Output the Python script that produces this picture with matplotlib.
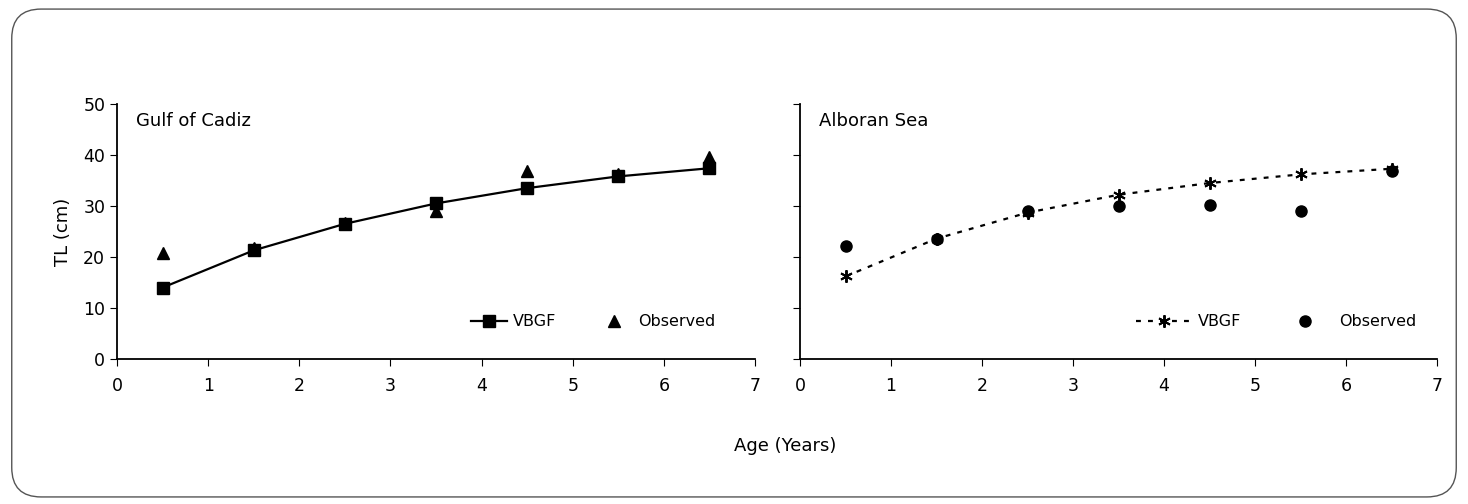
import matplotlib
matplotlib.use("Agg")
import matplotlib.pyplot as plt
from matplotlib.patches import FancyBboxPatch

# Age classes (years)
ages = [0.5, 1.5, 2.5, 3.5, 4.5, 5.5, 6.5]

# Gulf of Cadiz
cadiz_vbgf = [14.0, 21.3, 26.5, 30.5, 33.5, 35.8, 37.4]
cadiz_obs = [20.7, 21.8, 26.6, 29.0, 36.8, 36.3, 39.7]

# Alboran Sea
alboran_vbgf = [16.2, 23.6, 28.7, 32.2, 34.5, 36.2, 37.3]
alboran_obs = [22.1, 23.6, 29.0, 29.9, 30.1, 29.1, 36.9]

xticks = list(range(0, 8))
yticks = list(range(0, 60, 10))

plt.rcParams['font.family'] = 'DejaVu Sans'
fig = plt.figure(figsize=(14.68, 5.04), dpi=100)

# rounded frame around the whole figure
frame = FancyBboxPatch((0.008, 0.014), 0.984, 0.968, boxstyle="round,pad=0,rounding_size=0.02",
                       transform=fig.transFigure, fill=False, edgecolor="#555555", linewidth=1.0,
                       mutation_aspect=1468 / 504)
fig.patches.append(frame)

ax1 = fig.add_axes([0.0797, 0.2877, 0.4346, 0.506])
ax2 = fig.add_axes([0.545, 0.2877, 0.434, 0.506])


def style_axis(ax, show_ylabels):
    ax.set_xlim(0, 7)
    ax.set_ylim(0, 50)
    ax.set_xticks(xticks)
    ax.set_yticks(yticks)
    ax.spines['top'].set_visible(False)
    ax.spines['right'].set_visible(False)
    ax.spines['left'].set_linewidth(1.3)
    ax.spines['bottom'].set_linewidth(1.3)
    ax.tick_params(axis='both', direction='out', length=5, width=0.8, labelsize=12.5, colors='black')
    ax.tick_params(axis='x', pad=8)
    if not show_ylabels:
        ax.set_yticklabels([])


# left panel
ax1.plot(ages, cadiz_vbgf, color='black', linewidth=1.6, marker='s', markersize=8, label='VBGF', zorder=3)
ax1.plot(ages, cadiz_obs, linestyle='none', color='black', marker='^', markersize=8, label='Observed', zorder=2)
ax1.text(0.03, 0.97, 'Gulf of Cadiz', transform=ax1.transAxes, fontsize=13, va='top', ha='left')
style_axis(ax1, True)
ax1.set_ylabel('TL (cm)', fontsize=13, labelpad=8)
ax1.legend(loc='lower right', bbox_to_anchor=(0.96, 0.06), ncol=2, frameon=False, fontsize=11.5,
           handlelength=2.2, columnspacing=2.5, handletextpad=0.4)

# right panel
ax2.plot(ages, alboran_vbgf, color='black', linewidth=1.6, linestyle=(0, (2.2, 3.2)),
         marker=(6, 2, 0), markersize=9, markeredgewidth=1.4, label='VBGF', zorder=3)
ax2.plot(ages, alboran_obs, linestyle='none', color='black', marker='o', markersize=8, label='Observed', zorder=2)
ax2.text(0.03, 0.97, 'Alboran Sea', transform=ax2.transAxes, fontsize=13, va='top', ha='left')
style_axis(ax2, False)
ax2.legend(loc='lower right', bbox_to_anchor=(0.99, 0.06), ncol=2, frameon=False, fontsize=11.5,
           handlelength=3.5, columnspacing=2.2, handletextpad=0.4)

fig.text(0.535, 0.115, 'Age (Years)', ha='center', va='center', fontsize=13)

fig.savefig('out.png', dpi=100)
